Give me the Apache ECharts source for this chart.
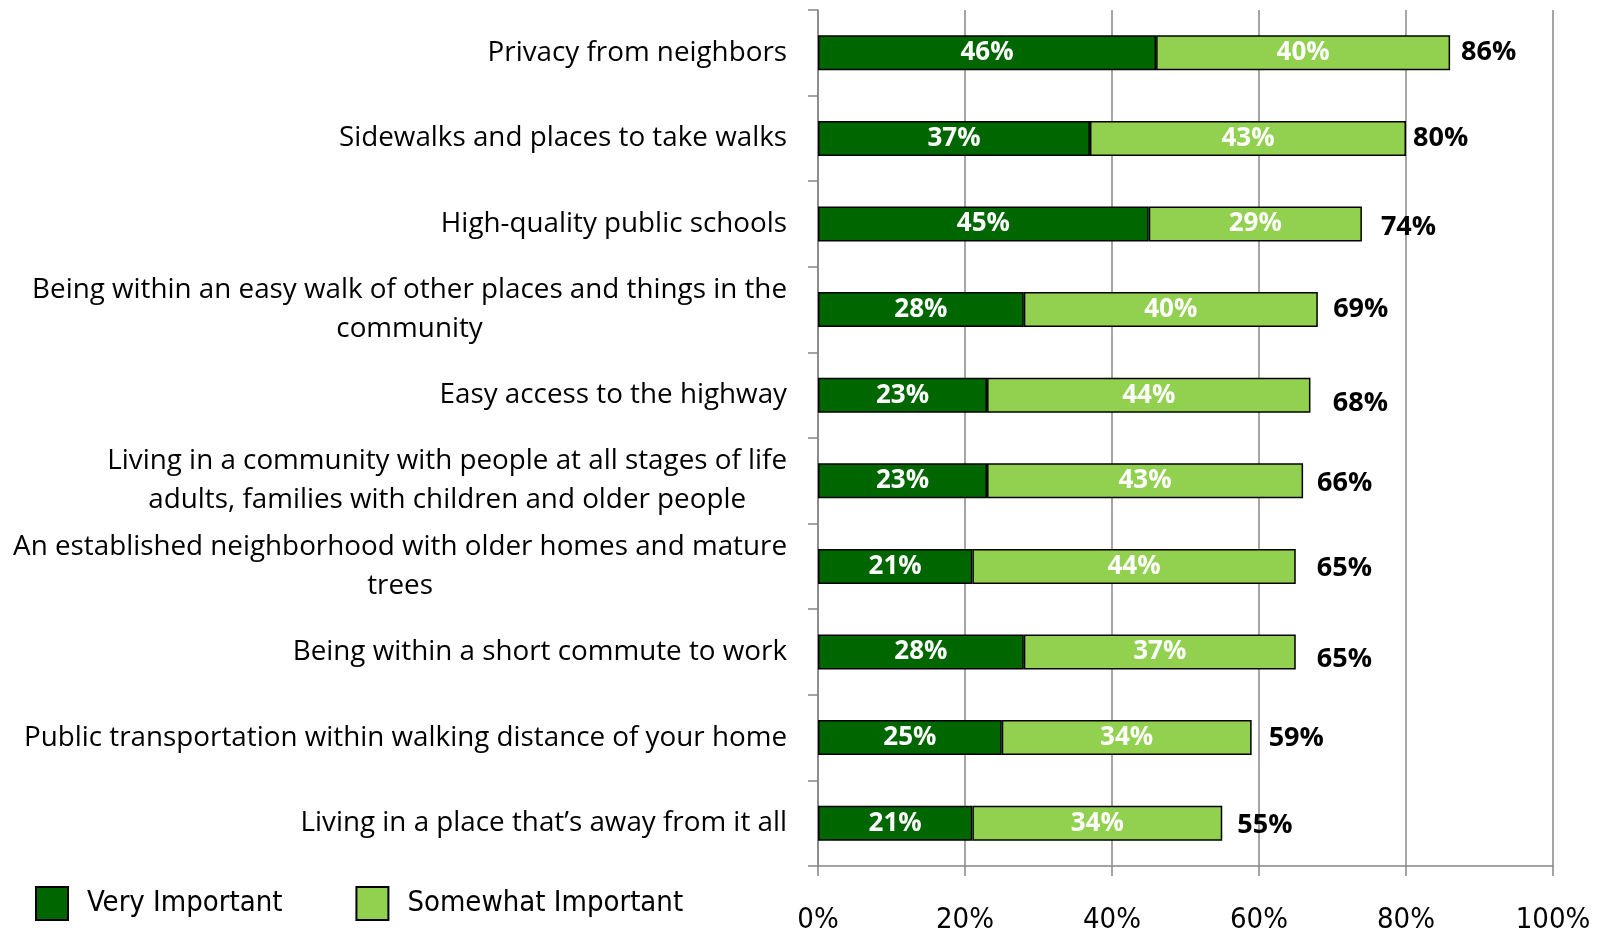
<!DOCTYPE html>
<html>
<head>
<meta charset="utf-8">
<script src="https://cdn.jsdelivr.net/npm/echarts@6/dist/echarts.min.js"></script>
<style>
  html, body { margin: 0; padding: 0; background: #fff; }
  #chart { width: 1603px; height: 930px; }
</style>
</head>
<body>
<div id="chart"></div>
<script>
// categories, top to bottom
const categories = [
  "Privacy from neighbors",
  "Sidewalks and places to take walks",
  "High-quality public schools",
  "Being within an easy walk of other places and things in the\ncommunity",
  "Easy access to the highway",
  "Living in a community with people at all stages of life\nadults, families with children and older people",
  "An established neighborhood with older homes and mature\ntrees",
  "Being within a short commute to work",
  "Public transportation within walking distance of your home",
  "Living in a place that\u2019s away from it all",
];
const veryImportant = [46, 37, 45, 28, 23, 23, 21, 28, 25, 21];
const somewhatImportant = [40, 43, 29, 40, 44, 43, 44, 37, 34, 34];
const totals = [86, 80, 74, 69, 68, 66, 65, 65, 59, 55];
const xTicks = [0, 20, 40, 60, 80, 100];

// small hand nudges of the total labels, as placed in the original
const totalNudge = [
  [-2, 0], [-6, 0], [6, 3], [-5, 0], [2, 8],
  [1, 3], [8, 2], [8, 7], [4, 1], [2, 2],
];

const GRID = "#878787";
const DARK = "#006600";
const LIGHT = "#92d050";
const narrow = "'Liberation Sans Narrow', 'DejaVu Sans Condensed', 'Open Sans', sans-serif";

const chart = echarts.init(document.getElementById("chart"));

const barLabel = {
  show: true,
  position: "inside",
  color: "#fff",
  fontFamily: "Open Sans",
  fontWeight: "bold",
  fontSize: 26,
  formatter: (p) => p.value + "%",
};

chart.setOption({
  animation: false,
  grid: {
    left: 818, right: 50, top: 10, bottom: 64,
    containLabel: false,
    outerBoundsMode: "none",
  },
  legend: {
    left: 35,
    top: 886,
    padding: 0,
    icon: "rect",
    itemWidth: 32,
    itemHeight: 33,
    itemGap: 73,
    textStyle: {
      fontFamily: narrow,
      fontSize: 29,
      color: "#000",
      padding: [0, 0, 0, 14],
    },
    data: ["Very Important", "Somewhat Important"],
  },
  xAxis: {
    type: "value",
    min: xTicks[0],
    max: xTicks[xTicks.length - 1],
    interval: 20,
    axisLine: { show: true, lineStyle: { color: GRID, width: 1.5 } },
    axisTick: { show: true, length: 10, lineStyle: { color: GRID, width: 1.5 } },
    splitLine: { show: true, lineStyle: { color: GRID, width: 1.5 } },
    axisLabel: {
      margin: 40,
      fontFamily: narrow,
      fontSize: 29,
      color: "#000",
      formatter: "{value}%",
    },
  },
  yAxis: {
    type: "category",
    inverse: true,
    data: categories,
    axisLine: { show: true, lineStyle: { color: GRID, width: 1.5 } },
    axisTick: { show: true, length: 10, lineStyle: { color: GRID, width: 1.5 } },
    axisLabel: {
      margin: 31,
      formatter: (v) => v.split("\n").map((l) => "{c|" + l + "}").join("\n"),
      rich: {
        c: {
          align: "center",
          fontFamily: "Open Sans",
          fontSize: 27.8,
          lineHeight: 39,
          color: "#000",
        },
      },
    },
  },
  series: [
    {
      name: "Very Important",
      type: "bar",
      stack: "all",
      barWidth: 35,
      data: veryImportant,
      itemStyle: { color: DARK, borderColor: "#000", borderWidth: 1.5 },
      label: barLabel,
    },
    {
      name: "Somewhat Important",
      type: "bar",
      stack: "all",
      barWidth: 35,
      data: somewhatImportant,
      itemStyle: { color: LIGHT, borderColor: "#000", borderWidth: 1.5 },
      label: barLabel,
    },
    {
      name: "Total",
      type: "scatter",
      symbolSize: 0,
      silent: true,
      itemStyle: { opacity: 1 },
      data: totals.map((t, i) => ({
        value: [t, categories[i]],
        label: { offset: totalNudge[i] },
      })),
      label: {
        show: true,
        position: "right",
        distance: 13,
        color: "#000",
        opacity: 1,
        fontFamily: "Open Sans",
        fontWeight: "bold",
        fontSize: 27,
        formatter: (p) => p.value[0] + "%",
      },
    },
  ],
});
</script>
</body>
</html>
